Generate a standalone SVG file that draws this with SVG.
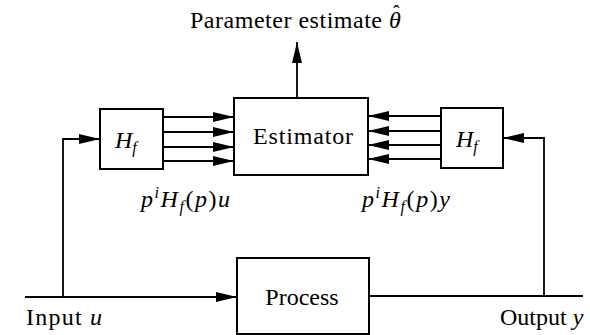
<svg xmlns="http://www.w3.org/2000/svg" width="590" height="335" viewBox="0 0 590 335">
<style>
.box{fill:#fff;stroke:#000;stroke-width:2}
.ln{fill:none;stroke:#000;stroke-width:1.8}
.t{font-family:"Liberation Serif","DejaVu Serif",serif;font-size:24px;fill:#000}
.m{font-family:"Liberation Serif","DejaVu Serif",serif;font-style:italic;font-size:24px;fill:#000}
</style>
<defs>
<marker id="ah" markerUnits="userSpaceOnUse" markerWidth="22" markerHeight="12" refX="21" refY="5.5" orient="auto">
<path d="M0,0.5 L21,5.5 L0,10.5 z" fill="#000"/>
</marker>
</defs>
<g id="connectors">
<line class="ln" x1="297" y1="98" x2="297" y2="42" marker-end="url(#ah)"/>
<line class="ln" x1="163" y1="117" x2="234" y2="117" marker-end="url(#ah)"/>
<line class="ln" x1="163" y1="132" x2="234" y2="132" marker-end="url(#ah)"/>
<line class="ln" x1="163" y1="147" x2="234" y2="147" marker-end="url(#ah)"/>
<line class="ln" x1="163" y1="161" x2="234" y2="161" marker-end="url(#ah)"/>
<line class="ln" x1="441" y1="116" x2="368" y2="116" marker-end="url(#ah)"/>
<line class="ln" x1="441" y1="131" x2="368" y2="131" marker-end="url(#ah)"/>
<line class="ln" x1="441" y1="145" x2="368" y2="145" marker-end="url(#ah)"/>
<line class="ln" x1="441" y1="159" x2="368" y2="159" marker-end="url(#ah)"/>
<line class="ln" x1="25" y1="297" x2="237" y2="297" marker-end="url(#ah)"/>
<polyline class="ln" points="63,297 63,139 100,139" marker-end="url(#ah)"/>
<line class="ln" x1="369" y1="296" x2="583" y2="296"/>
<polyline class="ln" points="544,296 544,138 503,138" marker-end="url(#ah)"/>
</g>
<g id="estimator">
<rect class="box" x="234" y="98" width="134" height="77"/>
<text class="t" x="303" y="144" text-anchor="middle" textLength="100">Estimator</text>
</g>
<g id="hf-left">
<rect class="box" x="100" y="109" width="63" height="60"/>
<text class="m" x="115" y="148">H<tspan dy="5" font-size="16">f</tspan></text>
</g>
<g id="hf-right">
<rect class="box" x="441" y="108" width="62" height="60"/>
<text class="m" x="456" y="147">H<tspan dy="5" font-size="16">f</tspan></text>
</g>
<g id="process">
<rect class="box" x="237" y="258" width="132" height="76"/>
<text class="t" x="302" y="305" text-anchor="middle">Process</text>
</g>
<g id="labels">
<text class="t" x="190" y="28"><tspan textLength="192">Parameter estimate</tspan><tspan x="389" font-style="italic">θ</tspan><tspan x="393" dy="-8" font-size="20">ˆ</tspan></text>
<text class="m" x="141" y="207" textLength="89">p<tspan dy="-9" font-size="16">i</tspan><tspan dy="9">H</tspan><tspan dy="5" font-size="16">f</tspan><tspan dy="-5" font-style="normal">(</tspan>p<tspan font-style="normal">)</tspan>u</text>
<text class="m" x="362" y="207" textLength="88">p<tspan dy="-9" font-size="16">i</tspan><tspan dy="9">H</tspan><tspan dy="5" font-size="16">f</tspan><tspan dy="-5" font-style="normal">(</tspan>p<tspan font-style="normal">)</tspan>y</text>
<text class="t" x="26" y="325" textLength="76">Input <tspan font-style="italic">u</tspan></text>
<text class="t" x="500" y="325">Output <tspan font-style="italic">y</tspan></text>
</g>
</svg>
